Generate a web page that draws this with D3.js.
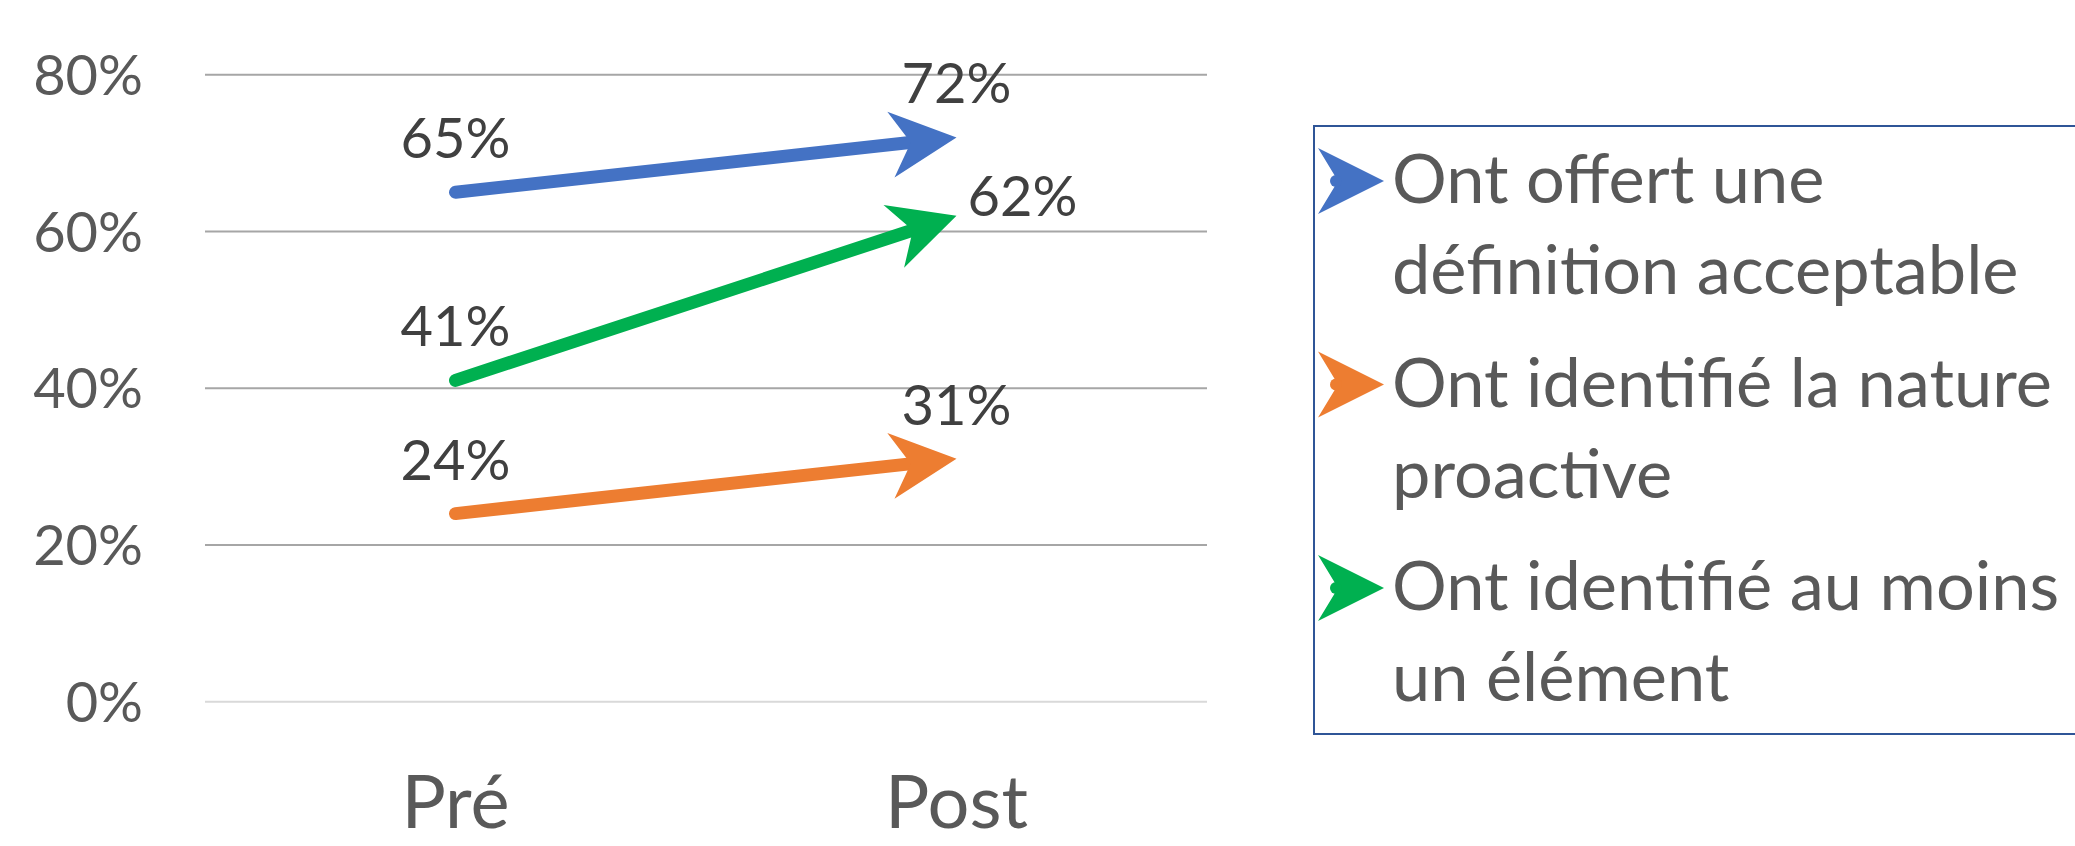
<!DOCTYPE html>
<meta charset="utf-8">
<style>
    body { margin: 0; background: #fff; }
    svg { font-family: Lato, "Open Sans", sans-serif; }
</style>
<svg width="2075" height="846"></svg>
<script src="https://cdn.jsdelivr.net/npm/d3@7/dist/d3.min.js"></script>
<script>
    var categories = ["Pré", "Post"];
    var seriesNames = ["Ont offert une définition acceptable", "Ont identifié la nature proactive", "Ont identifié au moins un élément"];
    var legendLines = [["Ont offert une", "définition acceptable"], ["Ont identifié la nature", "proactive"], ["Ont identifié au moins", "un élément"]];
    var preValues = [0.65, 0.24, 0.41];
    var postValues = [0.72, 0.31, 0.62];
    var colors = ["#4472C4", "#ED7D31", "#00B050"];
    var yTicks = [0, 0.2, 0.4, 0.6, 0.8];

    var svg = d3.select("svg");

    var x = d3.scaleBand().domain(categories).range([205, 1207]);
    var y = d3.scaleLinear().domain([0, 0.8]).range([701.7, 74.7]);
    var cx = function (c) { return x(c) + x.bandwidth() / 2; };
    var fmt = d3.format(".0%");

    // gridlines
    svg.append("g").selectAll("line")
        .data(yTicks)
        .enter().append("line")
        .attr("x1", 205).attr("x2", 1207)
        .attr("y1", y).attr("y2", y)
        .attr("stroke", function (d) { return d === 0 ? "#d9d9d9" : "#a6a6a6"; })
        .attr("stroke-width", 2);

    // y tick labels
    svg.append("g").selectAll("text")
        .data(yTicks)
        .enter().append("text")
        .attr("x", 143)
        .attr("y", y)
        .attr("dy", "0.36em")
        .attr("text-anchor", "end")
        .attr("fill", "#595959")
        .attr("font-size", 56)
        .text(fmt);

    // category labels
    svg.append("g").selectAll("text")
        .data(categories)
        .enter().append("text")
        .attr("x", cx)
        .attr("y", 828)
        .attr("text-anchor", "middle")
        .attr("fill", "#595959")
        .attr("font-size", 74)
        .text(function (d) { return d; });

    // arrow head geometry
    var headL = 66, headW = 33, headN = 46;

    function headPath(tx, ty, ux, uy) {
        var nx = -uy, ny = ux;
        var bx = tx - ux * headL, by = ty - uy * headL;
        var p = [
            [tx, ty],
            [bx + nx * headW, by + ny * headW],
            [tx - ux * headN, ty - uy * headN],
            [bx - nx * headW, by - ny * headW]
        ];
        return "M" + p.map(function (q) { return q.join(","); }).join("L") + "Z";
    }

    var series = seriesNames.map(function (name, i) {
        return { name: name, pre: preValues[i], post: postValues[i], color: colors[i], i: i };
    });

    var arrows = svg.append("g").selectAll("g")
        .data(series)
        .enter().append("g");

    arrows.each(function (d) {
        var g = d3.select(this);
        var x0 = cx("Pré"), y0 = y(d.pre), x1 = cx("Post"), y1 = y(d.post);
        var len = Math.hypot(x1 - x0, y1 - y0);
        var ux = (x1 - x0) / len, uy = (y1 - y0) / len;
        g.append("line")
            .attr("x1", x0).attr("y1", y0)
            .attr("x2", x1 - ux * 40).attr("y2", y1 - uy * 40)
            .attr("stroke", d.color)
            .attr("stroke-width", 13)
            .attr("stroke-linecap", "round");
        g.append("path")
            .attr("d", headPath(x1, y1, ux, uy))
            .attr("fill", d.color);
    });

    // data labels
    var labels = svg.append("g")
        .attr("fill", "#404040")
        .attr("font-size", 56);

    series.forEach(function (d) {
        labels.append("text")
            .attr("x", cx("Pré"))
            .attr("y", y(d.pre) - 34)
            .attr("text-anchor", "middle")
            .text(fmt(d.pre));
        var right = d.i === 2;
        labels.append("text")
            .attr("x", right ? cx("Post") + 11 : cx("Post"))
            .attr("y", right ? y(d.post) : y(d.post) - 34)
            .attr("text-anchor", right ? "start" : "middle")
            .text(fmt(d.post));
    });

    // legend
    var legend = svg.append("g");
    legend.append("rect")
        .attr("x", 1314).attr("y", 126)
        .attr("width", 800).attr("height", 608)
        .attr("fill", "none")
        .attr("stroke", "#2F5597")
        .attr("stroke-width", 2);

    var item = legend.selectAll("g.item")
        .data(series)
        .enter().append("g")
        .attr("class", "item")
        .attr("transform", function (d, i) { return "translate(0," + (i * 203.5) + ")"; });

    item.append("path")
        .attr("d", function (d) { return headPath(1384, 181, 1, 0); })
        .attr("fill", function (d) { return d.color; });
    item.append("circle")
        .attr("cx", 1336).attr("cy", 181).attr("r", 6)
        .attr("fill", function (d) { return d.color; });

    item.append("text")
        .attr("fill", "#595959")
        .attr("font-size", 68.5)
        .selectAll("tspan")
        .data(function (d) { return legendLines[d.i]; })
        .enter().append("tspan")
        .attr("x", 1392)
        .attr("y", function (d, j) { return 203 + j * 91; })
        .text(function (d) { return d; });
</script>
